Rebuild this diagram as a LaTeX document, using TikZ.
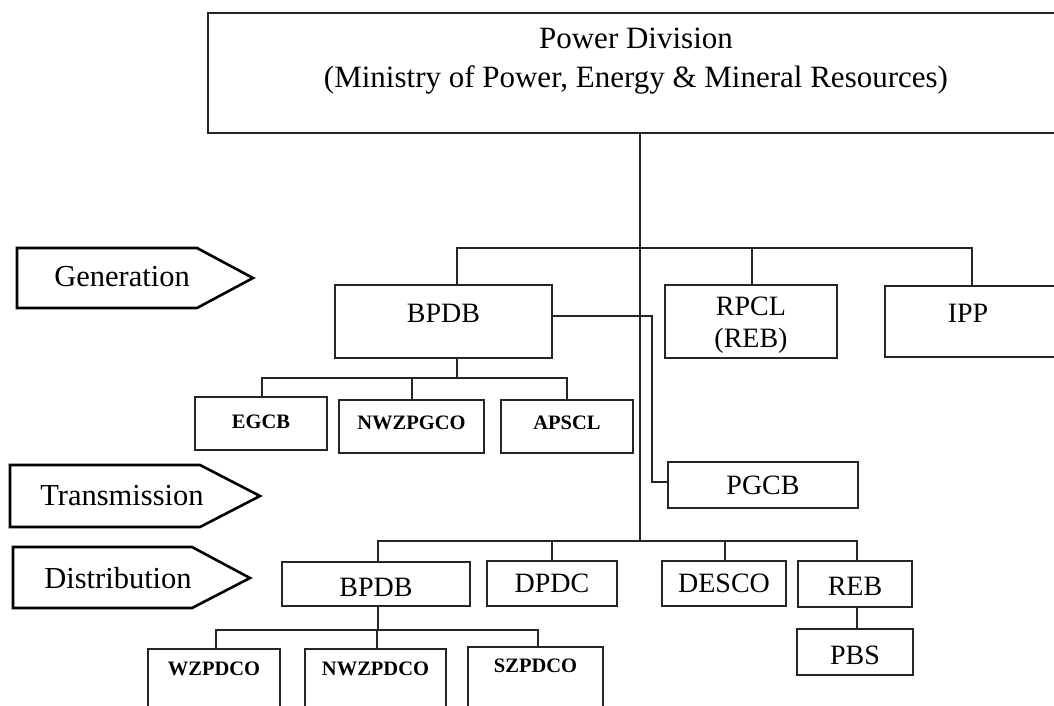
\documentclass[tikz,border=0pt]{standalone}
\usepackage{fontspec}
\setmainfont{Liberation Serif}
\begin{document}
\begin{tikzpicture}[x=1pt,y=-1pt,
  box/.style={draw=black!85, line width=1.3pt, inner sep=0pt, font=\fontsize{28}{32}\selectfont},
  sbox/.style={box, font=\bfseries\fontsize{20.5}{24}\selectfont},
  stage/.style={draw=black, line width=2.6pt, line join=miter},
  stagetext/.style={font=\fontsize{30.5}{34}\selectfont, inner sep=0pt},
  link/.style={draw=black!85, line width=1.2pt}]
\newcommand\bx[8][box]{%
  \pgfmathsetmacro\bw{#5-#3}\pgfmathsetmacro\bh{#6-#4}%
  \node[#1, minimum width=\bw pt, minimum height=\bh pt] (#2) at ({(#3+#5)/2},{(#4+#6)/2})
    {\raisebox{#8pt}[\height][\depth]{#7}};}
\clip (0,0) rectangle (1054,706);
\fill[white] (0,0) rectangle (1054,706);
% top box
\node[draw=black!85, line width=1.3pt, inner sep=0pt, minimum width=856pt, minimum height=120pt,
  font=\fontsize{31}{38}\selectfont, align=center] (top) at (636,73)
  {\raisebox{13pt}[\height][\depth]{\begin{tabular}{c}Power Division\\[1pt](Ministry of Power, Energy \& Mineral Resources)\end{tabular}}};
% stage arrows
\draw[stage] (17,248) coordinate (gA) -- (197,248) -- (253,278) coordinate (gTip) -- (197,308) -- (17,308) -- cycle;
\node[stagetext] (gen) at (122,277) {Generation};
\draw[stage] (10,465) coordinate (tA) -- (200,465) -- (260,496) coordinate (tTip) -- (200,527) -- (10,527) -- cycle;
\node[stagetext] (trans) at (122,496) {Transmission};
\draw[stage] (13,547) coordinate (dA) -- (192,547) -- (250,578) coordinate (dTip) -- (192,608) -- (13,608) -- cycle;
\node[stagetext] (dist) at (118,578) {Distribution};
% generation level
\bx{gBPDB}{335}{285}{552}{358}{BPDB}{8}
\bx{RPCL}{665}{285}{837}{358}{\begin{tabular}{@{}c@{}}RPCL\\(REB)\end{tabular}}{-4}
\bx{IPP}{885}{286}{1070}{357}{\hspace*{-19pt}IPP}{8}
\bx[sbox]{EGCB}{195}{397}{327}{450}{EGCB}{2}
\bx[sbox]{NWZPGCO}{339}{400}{484}{453}{NWZPGCO}{4}
\bx[sbox]{APSCL}{501}{400}{633}{453}{APSCL}{4}
% transmission
\bx{PGCB}{668}{462}{858}{508}{PGCB}{0}
% distribution
\bx{dBPDB}{282}{562}{470}{606}{BPDB}{-3}
\bx{DPDC}{487}{561}{617}{606}{DPDC}{0}
\bx{DESCO}{662}{561}{786}{606}{DESCO}{0}
\bx{REB}{798}{561}{912}{607}{REB}{-2}
\bx{PBS}{797}{629}{913}{675}{PBS}{-3}
\bx[sbox]{WZPDCO}{148}{649}{280}{740}{WZPDCO}{26}
\bx[sbox]{NWZPDCO}{305}{649}{446}{740}{NWZPDCO}{26}
\bx[sbox]{SZPDCO}{468}{647}{603}{740}{SZPDCO}{28}
% junction coordinates
\coordinate (gbar) at (640,248);
\coordinate (dbar) at (640,541);
% connectors
\draw[link] (top.south -| dbar) -- (dbar);
\draw[link] (457,0 |- gBPDB.north) -- (457,248) -- (972,248) -- (972,0 |- IPP.north);
\draw[link] (752,248) -- (752,0 |- RPCL.north);
\draw[link] (gBPDB.east |- 0,316) -- (652,316) -- (652,482) -- (PGCB.west |- 0,482);
\draw[link] (457,0 |- gBPDB.south) -- (457,378);
\draw[link] (262,0 |- EGCB.north) -- (262,378) -- (567,378) -- (567,0 |- APSCL.north);
\draw[link] (412,378) -- (412,0 |- NWZPGCO.north);
\draw[link] (378,0 |- dBPDB.north) -- (378,541) -- (857,541) -- (857,0 |- REB.north);
\draw[link] (552,541) -- (552,0 |- DPDC.north);
\draw[link] (725,541) -- (725,0 |- DESCO.north);
\draw[link] (857,0 |- REB.south) -- (857,0 |- PBS.north);
\draw[link] (378,0 |- dBPDB.south) -- (378,630);
\draw[link] (216,0 |- WZPDCO.north) -- (216,630) -- (538,630) -- (538,0 |- SZPDCO.north);
\draw[link] (377,630) -- (377,0 |- NWZPDCO.north);
\end{tikzpicture}
\end{document}
